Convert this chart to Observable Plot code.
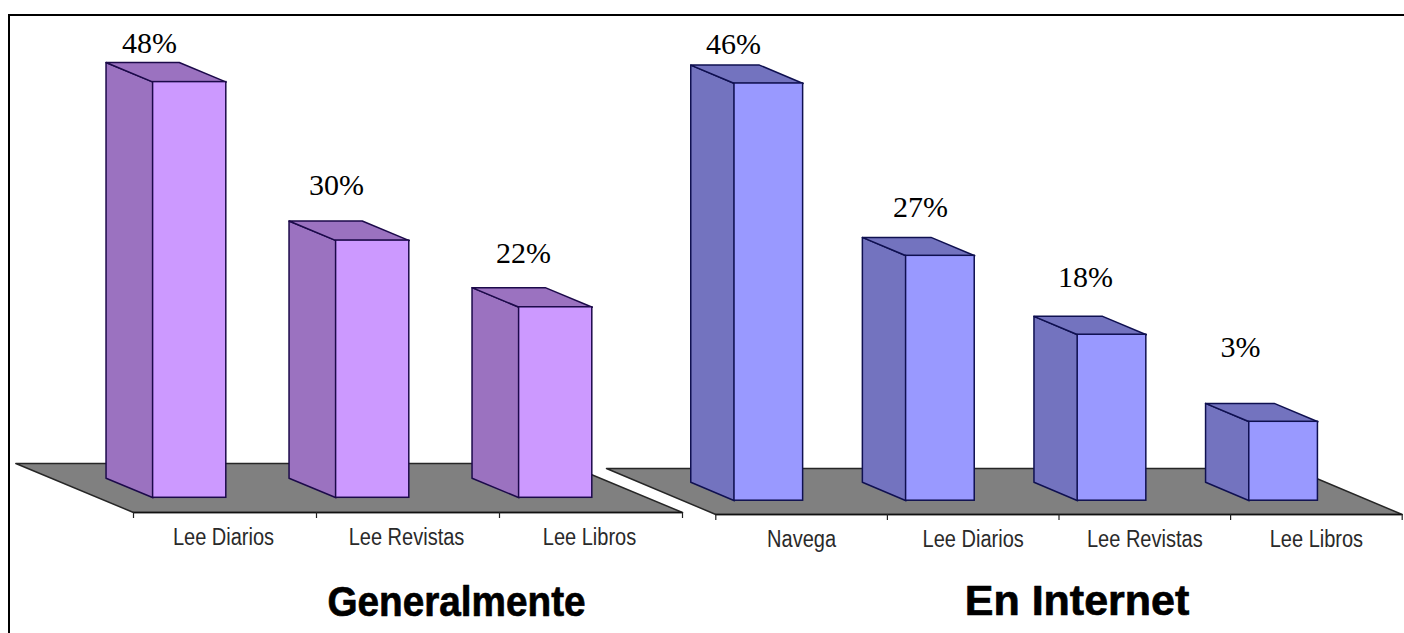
<!DOCTYPE html>
<html>
<head>
<meta charset="utf-8">
<script src="https://cdn.jsdelivr.net/npm/d3@7"></script>
<script src="https://cdn.jsdelivr.net/npm/@observablehq/plot@0.6"></script>
<style>
html,body{margin:0;padding:0;background:#fff;width:1404px;height:633px;overflow:hidden}
#frame{position:absolute;left:8px;top:14px;width:1396px;height:619px;border-left:2px solid #000;border-top:2px solid #000;box-sizing:border-box}
#left,#right{position:absolute;top:0}
#left{left:0}
#right{left:590px}
svg{overflow:visible}
</style>
</head>
<body>
<div id="frame"></div>
<div id="left"></div>
<div id="right"></div>
<script>
// Panel "Generalmente"
const generalCategories = ["Lee Diarios", "Lee Revistas", "Lee Libros"];
const generalHeights = [48, 29.7, 22];
const generalLabels = ["48%", "30%", "22%"];
const generalLabelSlots = [0.087, 1.109, 2.131];
const generalLabelLevels = [53.05, 36.7, 28.8];

// Panel "En Internet"
const internetCategories = ["Navega", "Lee Diarios", "Lee Revistas", "Lee Libros"];
const internetHeights = [46, 27, 18.3, 8.7];
const internetLabels = ["46%", "27%", "18%", "3%"];
const internetLabelSlots = [0.103, 1.193, 2.154, 3.058];
const internetLabelLevels = [50.8, 32.8, 25.1, 17.4];

function panel(o) {
  const {cats, heights, labels, slots, levels, title, titleSlot, titleLevel, front, side, edge, shiftX, shiftY} = o;
  // simple oblique projection: depth d in [0,1] moves a point back along the floor
  const px = (x, d) => x - d * shiftX;
  const py = (v, d) => v + d * shiftY;
  const halfBar = 0.2, dFront = 0.3, dBack = 0.7;
  const floor = [
    {x: px(0, 0), y: py(0, 0)},
    {x: px(cats.length, 0), y: py(0, 0)},
    {x: px(cats.length, 1), y: py(0, 1)},
    {x: px(0, 1), y: py(0, 1)}
  ];
  const bars = heights.map((h, i) => ({i, h, c: i + 0.5}));
  const sides = bars.flatMap(b => [
    {id: b.i, x: px(b.c - halfBar, dFront), y: py(0, dFront)},
    {id: b.i, x: px(b.c - halfBar, dFront), y: py(b.h, dFront)},
    {id: b.i, x: px(b.c - halfBar, dBack), y: py(b.h, dBack)},
    {id: b.i, x: px(b.c - halfBar, dBack), y: py(0, dBack)}
  ]);
  const tops = bars.flatMap(b => [
    {id: b.i, x: px(b.c - halfBar, dFront), y: py(b.h, dFront)},
    {id: b.i, x: px(b.c + halfBar, dFront), y: py(b.h, dFront)},
    {id: b.i, x: px(b.c + halfBar, dBack), y: py(b.h, dBack)},
    {id: b.i, x: px(b.c - halfBar, dBack), y: py(b.h, dBack)}
  ]);
  const face = {x: "x", y: "y", z: "id", curve: "linear-closed", stroke: edge, strokeWidth: 1.5, strokeLinejoin: "round"};
  return Plot.plot({
    width: o.width, height: 633,
    marginLeft: o.marginLeft, marginRight: o.marginRight, marginTop: 0, marginBottom: o.marginBottom,
    style: {background: "transparent", fontFamily: "Liberation Sans", maxWidth: "none", overflow: "visible"},
    x: {domain: [0, cats.length], axis: null},
    y: {domain: [0, o.yMax], axis: null},
    marks: [
      Plot.line(floor.map(p => ({...p, id: 0})), {...face, fill: "#808080", stroke: "#262626", strokeWidth: 1.5}),
      Plot.ruleY([0], {stroke: "#111", strokeWidth: 1.5}),
      Plot.axisX(d3.range(cats.length + 1), {label: null, tickSize: 6, tickFormat: () => "", stroke: "#222", strokeWidth: 1.2}),
      Plot.axisX(bars.map(b => b.c), {
        label: null, tickSize: 0, tickPadding: o.tickPadding, dx: o.tickDx, fontSize: 23, fontFamily: "Liberation Sans",
        fill: "#2a2a2a", tickFormat: v => cats[Math.floor(v)], className: "cat-label"
      }),
      Plot.line(sides, {...face, fill: side}),
      Plot.line(tops, {...face, fill: side}),
      Plot.rect(bars, {x1: b => px(b.c - halfBar, dFront), x2: b => px(b.c + halfBar, dFront), y1: () => py(0, dFront), y2: b => py(b.h, dFront), fill: front, stroke: edge, strokeWidth: 1.5}),
      Plot.text(labels, {
        x: (_, i) => slots[i], y: (_, i) => levels[i], text: d => d, lineAnchor: "bottom",
        fontFamily: "Liberation Serif", fontSize: 30, fill: "#000"
      }),
      Plot.text([title], {
        x: () => titleSlot, y: () => titleLevel, text: d => d, lineAnchor: "bottom",
        fontFamily: "Liberation Sans", fontWeight: "bold", fontSize: 43, fill: "#000", stroke: "#000", strokeWidth: 0.7, className: "panel-title"
      })
    ]
  });
}

const left = panel({
  cats: generalCategories, heights: generalHeights, labels: generalLabels,
  slots: generalLabelSlots, levels: generalLabelLevels,
  title: "Generalmente", titleSlot: 1.765, titleLevel: -11.9,
  front: "#CC99FF", side: "#9B72C0", edge: "#1c0a4a",
  shiftX: 0.643, shiftY: 5.66, width: 700, marginLeft: 133, marginRight: 18, marginBottom: 121, yMax: 59.12,
  tickPadding: 16, tickDx: -1.5
});
const right = panel({
  cats: internetCategories, heights: internetHeights, labels: internetLabels,
  slots: internetLabelSlots, levels: internetLabelLevels,
  title: "En Internet", titleSlot: 2.105, titleLevel: -11.1,
  front: "#9999FF", side: "#7373BF", edge: "#0f1050",
  shiftX: 0.637, shiftY: 5.07, width: 814, marginLeft: 125.3, marginRight: 2.3, marginBottom: 119, yMax: 56.67,
  tickPadding: 16, tickDx: 0
});
document.getElementById("left").append(left);
document.getElementById("right").append(right);

// the reference's lettering is horizontally condensed
function condense(svg, selector, factor) {
  svg.querySelectorAll(selector).forEach(t => {
    t.setAttribute("lengthAdjust", "spacingAndGlyphs");
    t.setAttribute("textLength", t.getComputedTextLength() * factor);
  });
}
for (const s of [left, right]) condense(s, ".cat-label text", 0.87);
condense(left, ".panel-title text", 0.9);
</script>
</body>
</html>
